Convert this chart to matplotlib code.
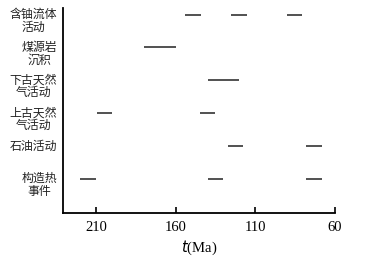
import matplotlib.pyplot as plt

plt.rcParams['font.family'] = ['Noto Sans CJK SC', 'DejaVu Sans']

# event rows, top to bottom
events = ["含铀流体\n活动", "煤源岩\n沉积", "下古天然\n气活动", "上古天然\n气活动", "石油活动", "构造热\n事件"]

# time spans (Ma) for each row: (start, end)
spans = [
    [(154, 144), (125, 115), (90, 81)],
    [(180, 160)],
    [(140, 120)],
    [(209, 200), (145, 135)],
    [(127, 118), (78, 68)],
    [(220, 210), (140, 130), (78, 68)],
]

xticks = [210, 160, 110, 60]

fig = plt.figure(figsize=(3.74, 2.61), dpi=100)
ax = fig.add_axes([0.168, 0.184, 0.728, 0.785])

for i, row in enumerate(spans):
    for start, end in row:
        ax.plot([start, end], [i, i], color="#222222", lw=1.1, solid_capstyle="butt")

ax.set_xlim(230.7, 60)
ax.set_ylim(6.04, -0.2)

# row labels: first line level with the bars, lines centred on each other
for i, name in enumerate(events):
    ax.text(-0.022, i - 0.2, name, transform=ax.get_yaxis_transform(),
            ha="right", va="top", multialignment="center", linespacing=0.95,
            fontsize=8.6, color="#222222")

ax.set_yticks([])
ax.set_xticks(xticks)
ax.set_xticklabels([str(t) for t in xticks], family="Liberation Serif", fontsize=10.5)
ax.tick_params(axis="x", direction="in", length=4, width=1.2, pad=6)
ax.set_xlabel("$\\it{t}$(Ma)", family="Liberation Serif", fontsize=10.5, labelpad=3)

for side in ["top", "right"]:
    ax.spines[side].set_visible(False)
for side in ["left", "bottom"]:
    ax.spines[side].set_linewidth(1.3)

fig.savefig("out.png", dpi=100)
